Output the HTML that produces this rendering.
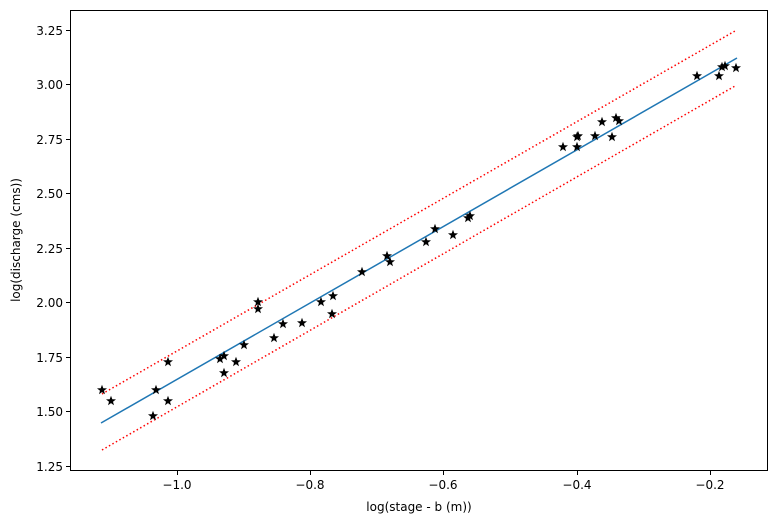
<!DOCTYPE html>
<html><head><style>body{margin:0;background:#fff}svg{display:block}text{font-family:"DejaVu Sans","Liberation Sans",sans-serif;font-size:12px;fill:#000}</style></head><body>
<svg width="777" height="525" viewBox="0 0 777 525" xmlns="http://www.w3.org/2000/svg">
<defs><path id="s" d="M0,-5.2 L1.3,-1.7 5,-1.6 2,0.7 3,4.2 0,2.1 -3,4.2 -2,0.7 -5,-1.6 -1.3,-1.7Z" fill="#000"/></defs>
<rect x="0" y="0" width="777" height="525" fill="#fff"/>
<line x1="102" y1="394" x2="735" y2="31" stroke="#ff0000" stroke-width="1.5" stroke-dasharray="1.5,2.5"/>
<line x1="102" y1="450" x2="735" y2="86" stroke="#ff0000" stroke-width="1.5" stroke-dasharray="1.5,2.5"/>
<line x1="101" y1="423" x2="737" y2="58" stroke="#1f77b4" stroke-width="1.5"/>
<g>
<use href="#s" x="102" y="390"/><use href="#s" x="111" y="401"/><use href="#s" x="156" y="390"/><use href="#s" x="153" y="416"/><use href="#s" x="168" y="362"/><use href="#s" x="168" y="401"/><use href="#s" x="220" y="359"/><use href="#s" x="224" y="356"/><use href="#s" x="224" y="373"/><use href="#s" x="236" y="362"/><use href="#s" x="244" y="345"/><use href="#s" x="258" y="302"/><use href="#s" x="258" y="309"/><use href="#s" x="274" y="338"/><use href="#s" x="283" y="324"/><use href="#s" x="302" y="323"/><use href="#s" x="321" y="302"/><use href="#s" x="333" y="296"/><use href="#s" x="332" y="314"/><use href="#s" x="362" y="272"/><use href="#s" x="387" y="256"/><use href="#s" x="390" y="262"/><use href="#s" x="426" y="242"/><use href="#s" x="435" y="229"/><use href="#s" x="453" y="235"/><use href="#s" x="470" y="216"/><use href="#s" x="468" y="218"/>
<use href="#s" x="563" y="147"/><use href="#s" x="577" y="147"/><use href="#s" x="577" y="137"/><use href="#s" x="578" y="136"/><use href="#s" x="595" y="136"/><use href="#s" x="602" y="122"/><use href="#s" x="612" y="137"/><use href="#s" x="616" y="118"/><use href="#s" x="619" y="121"/><use href="#s" x="697" y="76"/><use href="#s" x="719" y="76"/><use href="#s" x="722" y="67"/><use href="#s" x="725" y="66"/><use href="#s" x="736" y="68"/>
</g>
<rect x="70.5" y="10.5" width="697" height="460" fill="none" stroke="#000" stroke-width="1"/>
<g stroke="#000" stroke-width="1">
<line x1="66" x2="70" y1="30.5" y2="30.5"/><line x1="66" x2="70" y1="84.5" y2="84.5"/><line x1="66" x2="70" y1="139.5" y2="139.5"/><line x1="66" x2="70" y1="193.5" y2="193.5"/><line x1="66" x2="70" y1="248.5" y2="248.5"/><line x1="66" x2="70" y1="302.5" y2="302.5"/><line x1="66" x2="70" y1="357.5" y2="357.5"/><line x1="66" x2="70" y1="411.5" y2="411.5"/><line x1="66" x2="70" y1="466.5" y2="466.5"/>
<line y1="471" y2="475" x1="177.5" x2="177.5"/><line y1="471" y2="475" x1="310.5" x2="310.5"/><line y1="471" y2="475" x1="443.5" x2="443.5"/><line y1="471" y2="475" x1="577.5" x2="577.5"/><line y1="471" y2="475" x1="710.5" x2="710.5"/>
</g>
<g text-anchor="end">
<text x="63" y="35">3.25</text><text x="63" y="89">3.00</text><text x="63" y="144">2.75</text><text x="63" y="198">2.50</text><text x="63" y="253">2.25</text><text x="63" y="307">2.00</text><text x="63" y="362">1.75</text><text x="63" y="416">1.50</text><text x="63" y="471">1.25</text>
</g>
<g text-anchor="middle">
<text x="177" y="489">−1.0</text><text x="310" y="489">−0.8</text><text x="443" y="489">−0.6</text><text x="577" y="489">−0.4</text><text x="710" y="489">−0.2</text>
<text x="419" y="511">log(stage - b (m))</text>
<text transform="translate(20,240) rotate(-90)">log(discharge (cms))</text>
</g>
</svg>
</body></html>
